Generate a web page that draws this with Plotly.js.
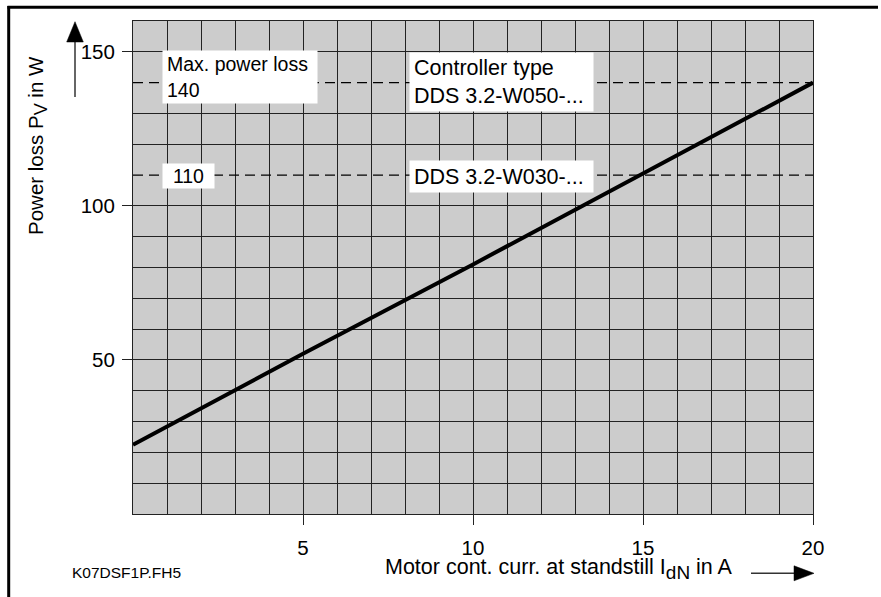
<!DOCTYPE html>
<html>
<head>
<meta charset="utf-8">
<script src="https://cdn.plot.ly/plotly-3.0.1.min.js"></script>
<style>
html,body{margin:0;padding:0;background:#fff;overflow:hidden;}
#chart{width:881px;height:597px;}
</style>
</head>
<body>
<div id="chart"></div>
<script>
// ---- data ----
const motorCurrent = [0, 5, 10, 15, 20];            // A
const powerLoss    = [22.5, 52, 81, 110.5, 140];     // W
const controllerLimits = [140, 110];                 // W (dashed lines)
const xTickVals = [5, 10, 15, 20];
const yTickVals = [50, 100, 150];
const yMinorVals = [10, 20, 30, 40, 60, 70, 80, 90, 120, 130];

// ---- layout geometry (pixels) ----
const W = 881, H = 597, L = 133, R = 68, T = 21, B = 83;
const PW = W - L - R, PH = H - T - B;
const px = x => (x - L) / PW;
const py = y => (H - B - y) / PH;

const FONT = 'Liberation Sans, Arial, Helvetica, sans-serif';

const trace = {
  x: motorCurrent, y: powerLoss, type: 'scatter', mode: 'lines',
  line: {color: '#000', width: 4}, hoverinfo: 'skip', showlegend: false
};

const shapes = [];
controllerLimits.forEach(v => shapes.push({
  type: 'line', xref: 'x', yref: 'y', x0: 0, x1: 20, y0: v, y1: v,
  line: {color: '#000', width: 1.2, dash: '10px,6px'}, layer: 'above'
}));
// outer frame (top and left edge)
shapes.push({type: 'line', xref: 'paper', yref: 'paper', x0: px(8.7), x1: px(8.7), y0: py(6), y1: py(597), line: {color: '#000', width: 3}});
shapes.push({type: 'line', xref: 'paper', yref: 'paper', x0: px(7.5), x1: px(878), y0: py(7.3), y1: py(7.3), line: {color: '#000', width: 3}});
// y arrow
shapes.push({type: 'line', xref: 'paper', yref: 'paper', x0: px(75), x1: px(75), y0: py(97), y1: py(40), line: {color: '#333', width: 1.5}});
shapes.push({type: 'path', xref: 'paper', yref: 'paper',
  path: `M ${px(66.7)},${py(42)} L ${px(83.3)},${py(42)} L ${px(75)},${py(21.7)} Z`,
  fillcolor: '#000', line: {color: '#000', width: 0.5}});
// x arrow
shapes.push({type: 'line', xref: 'paper', yref: 'paper', x0: px(751), x1: px(796), y0: py(573.3), y1: py(573.3), line: {color: '#333', width: 1.5}});
shapes.push({type: 'path', xref: 'paper', yref: 'paper',
  path: `M ${px(794)},${py(565.8)} L ${px(794)},${py(580.8)} L ${px(814)},${py(573.3)} Z`,
  fillcolor: '#000', line: {color: '#000', width: 0.5}});

const boxFont = {family: FONT, size: 19.5, color: '#000'};
const boxFontR = {family: FONT, size: 21.5, color: '#000'};
const annotations = [
  {xref: 'paper', yref: 'paper', x: px(162), y: py(50), xanchor: 'left', yanchor: 'top',
   text: 'Max. power loss<br>140', align: 'left', showarrow: false, bgcolor: '#fff',
   borderpad: 4, width: 146, height: 44, font: boxFont},
  {xref: 'paper', yref: 'paper', x: px(162), y: py(163), xanchor: 'left', yanchor: 'top',
   text: '110', align: 'center', showarrow: false, bgcolor: '#fff',
   borderpad: 4, width: 43, height: 16, font: boxFont},
  {xref: 'paper', yref: 'paper', x: px(409), y: py(52), xanchor: 'left', yanchor: 'top',
   text: 'Controller type<br>DDS 3.2-W050-...', align: 'left', showarrow: false, bgcolor: '#fff',
   borderpad: 4, width: 175, height: 50, font: boxFontR},
  {xref: 'paper', yref: 'paper', x: px(409), y: py(160), xanchor: 'left', yanchor: 'top',
   text: 'DDS 3.2-W030-...', align: 'left', showarrow: false, bgcolor: '#fff',
   borderpad: 4, width: 175, height: 23, font: boxFontR},
  // axis titles
  {xref: 'paper', yref: 'paper', x: px(37), y: py(146), xanchor: 'center', yanchor: 'middle',
   text: "Power loss P<sub><span style='font-size:18px'>V</span></sub> in W", textangle: -90, showarrow: false,
   font: {family: FONT, size: 20.5, color: '#000'}},
  {xref: 'paper', yref: 'paper', x: px(383), y: py(569), xanchor: 'left', yanchor: 'middle',
   text: "Motor cont. curr. at standstill I<sub><span style='font-size:19px'>dN</span></sub> in A", showarrow: false,
   font: {family: FONT, size: 21.5, color: '#000'}},
  {xref: 'paper', yref: 'paper', x: px(70), y: py(572), xanchor: 'left', yanchor: 'middle',
   text: 'K07DSF1P.FH5', showarrow: false,
   font: {family: FONT, size: 15.5, color: '#000'}}
];

const layout = {
  width: W, height: H,
  margin: {l: L, r: R, t: T, b: B, pad: 0},
  paper_bgcolor: '#fff', plot_bgcolor: '#cccccc',
  font: {family: FONT, size: 20, color: '#000'},
  showlegend: false,
  xaxis: {
    range: [0, 20], tickmode: 'array', tickvals: xTickVals,
    ticks: 'outside', ticklen: 10, tickcolor: '#222', tickwidth: 1,
    ticklabelstandoff: 5,
    showgrid: true, gridcolor: '#222', gridwidth: 1,
    minor: {dtick: 1, tick0: 0, showgrid: true, gridcolor: '#222', gridwidth: 1, ticks: ''},
    showline: true, mirror: true, linecolor: '#222', linewidth: 1,
    zeroline: false, fixedrange: true,
    tickfont: {family: FONT, size: 20.5, color: '#000'}
  },
  yaxis: {
    range: [0, 160], tickmode: 'array', tickvals: yTickVals,
    ticks: 'outside', ticklen: 10, tickcolor: '#222', tickwidth: 1,
    ticklabelstandoff: 3,
    showgrid: true, gridcolor: '#222', gridwidth: 1,
    minor: {tickmode: 'array', tickvals: yMinorVals, showgrid: true, gridcolor: '#222', gridwidth: 1, ticks: ''},
    showline: true, mirror: true, linecolor: '#222', linewidth: 1,
    zeroline: false, fixedrange: true,
    tickfont: {family: FONT, size: 20.5, color: '#000'}
  },
  shapes: shapes,
  annotations: annotations
};

Plotly.newPlot('chart', [trace], layout, {displayModeBar: false, staticPlot: true});
</script>
</body>
</html>
